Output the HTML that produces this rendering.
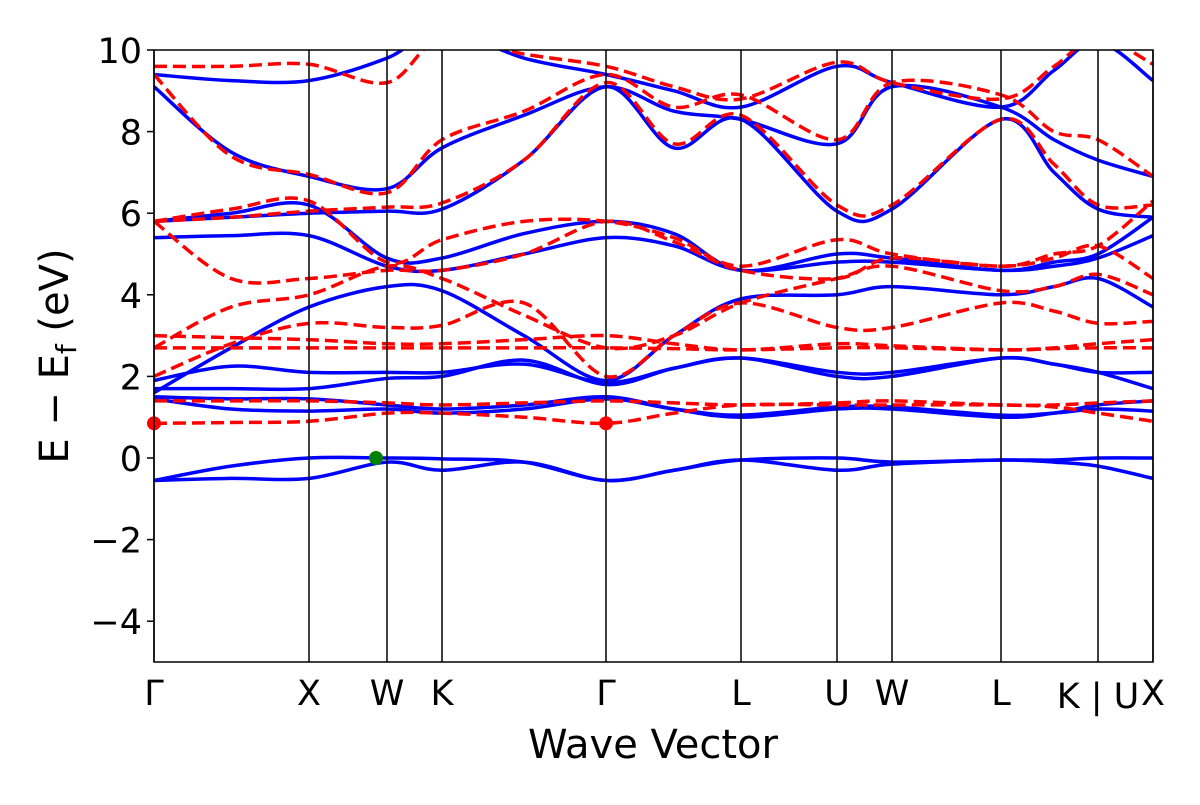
<!DOCTYPE html>
<html><head><meta charset="utf-8"><style>
body{margin:0;background:#fff;}
svg text{font-family:"DejaVu Sans","Liberation Sans",sans-serif;fill:#000;}
</style></head><body>
<svg id="chart" width="1200" height="800" xmlns="http://www.w3.org/2000/svg">
<g id="bands"></g>
<g id="axes"></g>
</svg>
<script>
const kDist=[0,77,155,233,288,370,452,520,587,683,738,847,900,944,999];
const kLabels=["Γ","X","W","K","Γ","L","U","W","L","K | U","X"];
const kLabelPos=[0,155,233,288,452,587,683,738,847,944,999];
const yTicks=[10,8,6,4,2,0,-2,-4];
const upBands=[
[-0.55,-0.5,-0.5,-0.1,-0.3,-0.1,-0.55,-0.3,-0.05,-0.3,-0.15,-0.05,-0.1,-0.2,-0.5],
[-0.55,-0.2,0.0,0.0,-0.02,-0.1,-0.55,-0.3,-0.05,0.0,-0.1,-0.05,-0.05,0.0,0.0],
[1.5,1.45,1.45,1.3,1.2,1.3,1.5,1.2,1.0,1.2,1.2,1.0,1.1,1.3,1.4],
[1.45,1.2,1.15,1.2,1.1,1.2,1.45,1.2,1.05,1.25,1.25,1.05,1.1,1.2,1.15],
[1.7,1.7,1.7,1.95,2.0,2.4,1.8,2.2,2.45,2.0,2.0,2.45,2.3,2.1,1.7],
[1.9,2.25,2.1,2.1,2.1,2.3,1.85,2.2,2.45,2.1,2.1,2.45,2.3,2.1,2.1],
[1.6,2.7,3.7,4.2,4.1,3.0,1.9,3.0,3.9,4.0,4.2,4.0,4.2,4.4,3.7],
[5.4,5.45,5.45,4.7,4.6,5.0,5.4,5.2,4.6,4.8,4.8,4.6,4.7,4.9,5.45],
[5.8,6.0,6.2,4.9,4.9,5.5,5.8,5.5,4.6,5.0,4.9,4.6,4.8,5.0,5.9],
[5.8,5.9,6.0,6.05,6.1,7.3,9.1,7.6,8.3,6.05,6.1,8.3,7.0,6.1,5.9],
[9.1,7.5,6.9,6.6,7.6,8.4,9.1,8.5,8.3,7.7,9.1,8.6,7.8,7.3,6.9],
[9.4,9.25,9.25,9.8,10.5,9.8,9.4,9.0,8.6,9.6,9.2,8.6,9.5,10.2,9.25]
];
const downBands=[
[0.85,0.87,0.9,1.1,1.1,1.0,0.85,1.1,1.3,1.3,1.3,1.3,1.25,1.1,0.9],
[1.4,1.4,1.4,1.35,1.3,1.35,1.4,1.35,1.3,1.35,1.4,1.3,1.3,1.35,1.4],
[2.7,2.7,2.7,2.7,2.7,2.7,2.7,2.68,2.65,2.7,2.7,2.65,2.68,2.7,2.7],
[3.0,2.95,2.9,2.8,2.8,2.9,3.0,2.8,2.65,2.8,2.75,2.65,2.7,2.8,2.9],
[2.0,2.8,3.3,3.2,3.25,3.8,2.0,3.0,3.8,3.2,3.2,3.8,3.6,3.3,3.35],
[2.7,3.7,4.0,4.7,4.4,3.5,2.7,3.0,3.8,4.4,4.7,4.1,4.2,4.5,4.0],
[5.8,4.4,4.4,4.6,4.6,5.0,5.8,5.3,4.6,4.4,4.9,4.7,4.9,5.2,4.4],
[5.8,6.1,6.3,4.8,5.35,5.8,5.8,5.4,4.7,5.35,5.0,4.7,5.0,5.2,6.3],
[5.8,5.9,6.05,6.15,6.25,7.3,9.2,7.7,8.4,6.2,6.2,8.3,7.2,6.2,6.2],
[9.4,7.4,6.95,6.5,7.8,8.5,9.4,8.6,8.9,7.8,9.2,8.9,8.0,7.8,6.9],
[9.6,9.6,9.65,9.2,10.3,9.9,9.6,9.1,8.8,9.7,9.2,8.8,9.6,10.3,9.65]
];
const gapPoints=[{k:222,e:0.0,c:"green"},{k:0,e:0.85,c:"red"},{k:452,e:0.85,c:"red"}];

const X0=154,X1=1153,Y0=50,Y1=662,yMin=-5,yMax=10;
const xs=k=>X0+(k/999)*(X1-X0);
const ys=e=>Y0+(yMax-e)/(yMax-yMin)*(Y1-Y0);
const NS="http://www.w3.org/2000/svg";
function mk(t,a,p){const el=document.createElementNS(NS,t);for(const k in a)el.setAttribute(k,a[k]);p.appendChild(el);return el;}
function pathD(vals){
  const P=vals.map((v,i)=>[xs(kDist[i]),ys(v)]);
  let d="M"+P[0][0]+","+P[0][1];
  for(let i=0;i<P.length-1;i++){
    const p0=P[Math.max(i-1,0)],p1=P[i],p2=P[i+1],p3=P[Math.min(i+2,P.length-1)];
    const c1=[p1[0]+(p2[0]-p0[0])/6,p1[1]+(p2[1]-p0[1])/6];
    const c2=[p2[0]-(p3[0]-p1[0])/6,p2[1]-(p3[1]-p1[1])/6];
    d+=" C"+c1+" "+c2+" "+p2;
  }
  return d;
}
const bands=document.getElementById("bands"),axes=document.getElementById("axes");
const clip=mk("clipPath",{id:"pc"},mk("defs",{},document.getElementById("chart")));
mk("rect",{x:X0,y:Y0,width:X1-X0,height:Y1-Y0},clip);
bands.setAttribute("clip-path","url(#pc)");
upBands.forEach(b=>{const p=mk("path",{d:pathD(b),fill:"none",stroke:"#0000ff","stroke-width":3.5},bands);

});
downBands.forEach(b=>{const p=mk("path",{d:pathD(b),fill:"none",stroke:"#ff0000","stroke-width":3.5,"stroke-dasharray":"13,6"},bands);

});
kLabelPos.forEach((k,i)=>{const l=mk("line",{x1:xs(k),x2:xs(k),y1:Y0,y2:Y1,stroke:"#000","stroke-width":1.5},axes);


const t=mk("text",{x:xs(k),y:Y1+43,"font-size":35,"text-anchor":"middle"},axes);t.textContent=kLabels[i];
if(i===kLabels.length-2)t.setAttribute("y",Y1+46);

});
gapPoints.forEach(g=>{const c=mk("circle",{cx:xs(g.k),cy:ys(g.e),r:7,fill:g.c},axes);

});
const fr=mk("rect",{x:X0,y:Y0,width:X1-X0,height:Y1-Y0,fill:"none",stroke:"#000","stroke-width":1.5},axes);


yTicks.forEach(v=>{const l=mk("line",{x1:X0-7,x2:X0,y1:ys(v),y2:ys(v),stroke:"#000","stroke-width":1.5},axes);


const t=mk("text",{x:X0-12,y:ys(v)+13,"font-size":35,"text-anchor":"end"},axes);t.textContent=v<0?"−"+(-v):String(v);

});
const xt=mk("text",{x:653,y:758,"font-size":40,"text-anchor":"middle"},axes);xt.textContent="Wave Vector";


const yt=mk("text",{transform:"translate(68,356) rotate(-90)","font-size":40,"text-anchor":"middle"},axes);
yt.innerHTML='E − E<tspan font-size="28" dy="8">f</tspan><tspan dy="-8"> (eV)</tspan>';


</script>
</body></html>
